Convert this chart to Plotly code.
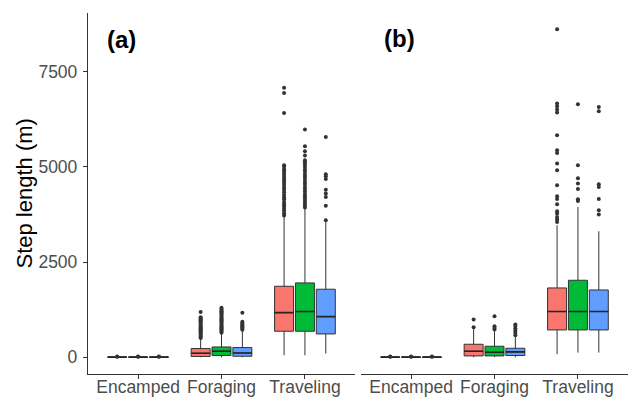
import plotly.graph_objects as go

categories = ["Encamped", "Foraging", "Traveling"]
groups = ["g1", "g2", "g3"]
colors = ["#F8766D", "#00BA38", "#619CFF"]

# Panel (a) box statistics: one list per group, values per category
a_q1 = [[0, 20, 683], [0, 45, 683], [0, 26, 612]]
a_median = [[2, 105, 1173], [2, 158, 1200], [2, 113, 1068]]
a_q3 = [[5, 228, 1864], [5, 270, 1952], [5, 255, 1786]]
a_lower = [[0, 0, 52], [0, 0, 52], [0, 0, 97]]
a_upper = [[12, 490, 3685], [12, 620, 3905], [12, 700, 3550]]

# Panel (b) box statistics
b_q1 = [[0, 35, 717], [0, 35, 717], [0, 45, 717]]
b_median = [[2, 158, 1200], [2, 131, 1200], [2, 140, 1200]]
b_q3 = [[5, 341, 1820], [5, 289, 2022], [5, 236, 1767]]
b_lower = [[0, 0, 79], [0, 0, 123], [0, 0, 123]]
b_upper = [[12, 740, 3466], [12, 700, 3947], [12, 551, 3309]]

# Outliers: panel (a)
a_red_out = {
    "Encamped": [15, 20],
    "Foraging": [505, 530, 560, 590, 615, 650, 680, 700, 730, 760, 790, 820, 850, 880,
                 910, 940, 970, 1000, 1030, 1050, 1190],
    "Traveling": [3720, 3780, 3850, 3900, 3960, 4020, 4080, 4150, 4200, 4260, 4330, 4400,
                  4460, 4520, 4580, 4640, 4700, 4760, 4820, 4880, 4940, 5000, 5040,
                  6415, 6940, 7080],
}
a_green_out = {
    "Encamped": [15, 20],
    "Foraging": [640, 670, 700, 730, 760, 790, 820, 850, 880, 910, 940, 970, 1000, 1030,
                 1060, 1090, 1120, 1150, 1180, 1210, 1240, 1270, 1300],
    "Traveling": [3930, 3990, 4050, 4110, 4170, 4230, 4290, 4350, 4420, 4480, 4550, 4610,
                  4680, 4740, 4800, 4870, 4930, 5000, 5060, 5120, 5170, 5300, 5410, 5540,
                  5980],
}
a_blue_out = {
    "Encamped": [15, 20],
    "Foraging": [720, 750, 780, 810, 840, 870, 900, 930, 1170],
    "Traveling": [3600, 3980, 4210, 4300, 4400, 4680, 4750, 4805, 5785],
}

# Outliers: panel (b)
b_red_out = {
    "Encamped": [15, 20],
    "Foraging": [790, 990],
    "Traveling": [3553, 3616, 3684, 3774, 3834, 4018, 4157, 4228, 4517, 4911, 5086, 5365,
                  5436, 5830, 6426, 6505, 6591, 6662, 8613],
}
b_green_out = {
    "Encamped": [15, 20],
    "Foraging": [730, 770, 815, 1075],
    "Traveling": [4105, 4150, 4420, 4560, 4700, 5042, 6644],
}
b_blue_out = {
    "Encamped": [15, 20],
    "Foraging": [580, 640, 700, 760, 820, 860],
    "Traveling": [3747, 3860, 4157, 4472, 4543, 6460, 6573],
}

y_ticks = [0, 2500, 5000, 7500]

fig = go.Figure()

panels = [
    ("x", a_q1, a_median, a_q3, a_lower, a_upper, [a_red_out, a_green_out, a_blue_out]),
    ("x2", b_q1, b_median, b_q3, b_lower, b_upper, [b_red_out, b_green_out, b_blue_out]),
]

for xa, q1, med, q3, lo, up, outs in panels:
    for i, g in enumerate(groups):
        # box + whiskers
        fig.add_trace(go.Box(
            x=categories, q1=q1[i], median=med[i], q3=q3[i],
            lowerfence=lo[i], upperfence=up[i],
            offsetgroup=g, xaxis=xa, yaxis="y",
            fillcolor=colors[i], line=dict(color="#333333", width=1),
            whiskerwidth=0, boxpoints=False, showlegend=False, hoverinfo="skip",
        ))
        # thicker median line (flat box at the median)
        fig.add_trace(go.Box(
            x=categories, q1=med[i], median=med[i], q3=med[i],
            lowerfence=med[i], upperfence=med[i],
            offsetgroup=g, xaxis=xa, yaxis="y",
            fillcolor="rgba(0,0,0,0)", line=dict(color="#262626", width=1.6),
            whiskerwidth=0, boxpoints=False, showlegend=False, hoverinfo="skip",
        ))
        # outliers
        xs, ys = [], []
        for c in categories:
            xs += [c] * len(outs[i][c])
            ys += outs[i][c]
        fig.add_trace(go.Box(
            x=xs, y=ys, offsetgroup=g, xaxis=xa, yaxis="y",
            boxpoints="all", jitter=0, pointpos=0,
            fillcolor="rgba(0,0,0,0)", line=dict(color="rgba(0,0,0,0)", width=0),
            marker=dict(color="#333333", size=4),
            whiskerwidth=0, showlegend=False, hoverinfo="skip",
        ))

font_family = "Liberation Sans, Arial, sans-serif"
xax = dict(
    type="category", categoryorder="array", categoryarray=categories,
    range=[-0.6, 2.6], showline=True, linecolor="#333333", linewidth=1.3,
    ticks="outside", ticklen=4, tickcolor="#333333", showgrid=False, zeroline=False,
    tickfont=dict(family=font_family, size=17.5, color="#4D4D4D"), anchor="y",
    automargin=False, ticklabelstandoff=-7,
)

fig.update_layout(
    width=635, height=400,
    margin=dict(l=88, r=7, t=13, b=26, autoexpand=False),
    paper_bgcolor="white", plot_bgcolor="white",
    boxmode="group", boxgap=0.25, boxgroupgap=0.09,
    font=dict(family=font_family),
    xaxis=dict(xax, domain=[0, 267 / 540]),
    xaxis2=dict(xax, domain=[273 / 540, 1]),
    yaxis=dict(
        range=[-440, 9040], tickvals=y_ticks, ticktext=[str(v) for v in y_ticks],
        showline=True, linecolor="#333333", linewidth=1.3,
        ticks="outside", ticklen=4, tickcolor="#333333",
        showgrid=False, zeroline=False, anchor="x", automargin=False,
        ticklabelstandoff=2,
        tickfont=dict(family=font_family, size=17.5, color="#4D4D4D"),
    ),
    annotations=[
        dict(text="Step length (m)", textangle=-90, xref="paper", yref="paper",
             x=(24 - 88) / 540, y=0.5, xanchor="center", yanchor="middle",
             showarrow=False, font=dict(family=font_family, size=22, color="black")),
        dict(text="<b>(a)</b>", xref="paper", yref="paper",
             x=(121 - 88) / 540, y=(374 - 40) / 361, xanchor="center", yanchor="middle",
             showarrow=False, font=dict(family=font_family, size=24, color="black")),
        dict(text="<b>(b)</b>", xref="paper", yref="paper",
             x=(399 - 88) / 540, y=(374 - 38) / 361, xanchor="center", yanchor="middle",
             showarrow=False, font=dict(family=font_family, size=24, color="black")),
    ],
)

fig.write_html("out.html", config={"displayModeBar": False},
               post_script="document.body.style.margin='0px';")
